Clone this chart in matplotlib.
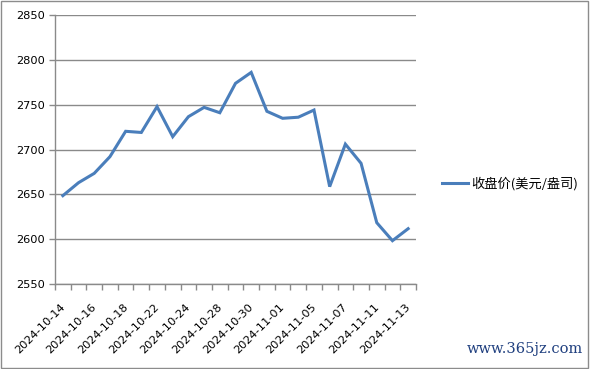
import matplotlib
matplotlib.use("Agg")
import matplotlib.pyplot as plt
import matplotlib.transforms as mtransforms
import numpy as np
from matplotlib.patches import Rectangle

dates = ["2024-10-14", "2024-10-15", "2024-10-16", "2024-10-17", "2024-10-18",
         "2024-10-21", "2024-10-22", "2024-10-23", "2024-10-24", "2024-10-25",
         "2024-10-28", "2024-10-29", "2024-10-30", "2024-10-31", "2024-11-01",
         "2024-11-04", "2024-11-05", "2024-11-06", "2024-11-07", "2024-11-08",
         "2024-11-11", "2024-11-12", "2024-11-13"]
close = [2648.5, 2663, 2673.4, 2692, 2720.3, 2719, 2747.8, 2714.3, 2736.6, 2747,
         2741, 2773.8, 2786, 2742.6, 2734.8, 2736, 2744, 2658.6, 2706, 2684.6,
         2618.4, 2598.3, 2611.7]
series_name = "收盘价(美元/盎司)"
yticks = [2550, 2600, 2650, 2700, 2750, 2800, 2850]

fig = plt.figure(figsize=(5.9, 3.69), dpi=100)
fig.patches.append(Rectangle((0.002, 0.003), 0.995, 0.993, transform=fig.transFigure,
                             fill=False, edgecolor="#8c8c8c", linewidth=1))
ax = fig.add_axes([55/590, 1-284/369, (416-55)/590, (284-15)/369])

x = np.arange(len(dates))
line, = ax.plot(x, close, color="#4A7EBB", linewidth=2.2, label=series_name,
                solid_joinstyle="miter")

ax.set_xlim(-0.5, len(dates)-0.5)
ax.set_ylim(2550, 2850)
ax.set_yticks(yticks)
ax.set_yticklabels([str(v) for v in yticks], fontsize=8.2)
ax.yaxis.grid(True, color="#8a8a8a", linewidth=1)
ax.set_axisbelow(True)

ax.set_xticks(np.arange(-0.5, len(dates)), labels=[""]*(len(dates)+1))
ax.set_xticks(x[::2], labels=[dates[i] for i in x[::2]], minor=True)
ax.tick_params(axis="x", which="major", length=4, color="#8a8a8a", width=1)
ax.tick_params(axis="x", which="minor", length=0, labelsize=8.2, pad=13)
shift = mtransforms.ScaledTranslation(-3/100, 0, fig.dpi_scale_trans)
for lab in ax.get_xticklabels(minor=True):
    lab.set_rotation(45)
    lab.set_ha("right")
    lab.set_rotation_mode("anchor")
    lab.set_transform(lab.get_transform() + shift)
ax.tick_params(axis="y", length=4, color="#8a8a8a", width=1, pad=3)

for s in ["top", "right"]:
    ax.spines[s].set_visible(False)
for s in ["left", "bottom"]:
    ax.spines[s].set_color("#8a8a8a")
    ax.spines[s].set_linewidth(1)

leg = fig.legend(handles=[line], loc="center left", bbox_to_anchor=(430/590, 1-184/369),
                 frameon=False, prop={"family": ["Noto Sans CJK SC", "DejaVu Sans"], "size": 9.5},
                 handlelength=2.0, handletextpad=0.25)

fig.text(0.988, 0.035, "www.365jz.com", ha="right", va="bottom", fontsize=10.5,
         color="#1f3f7f", family="DejaVu Serif")

fig.savefig("out.png", dpi=100)
